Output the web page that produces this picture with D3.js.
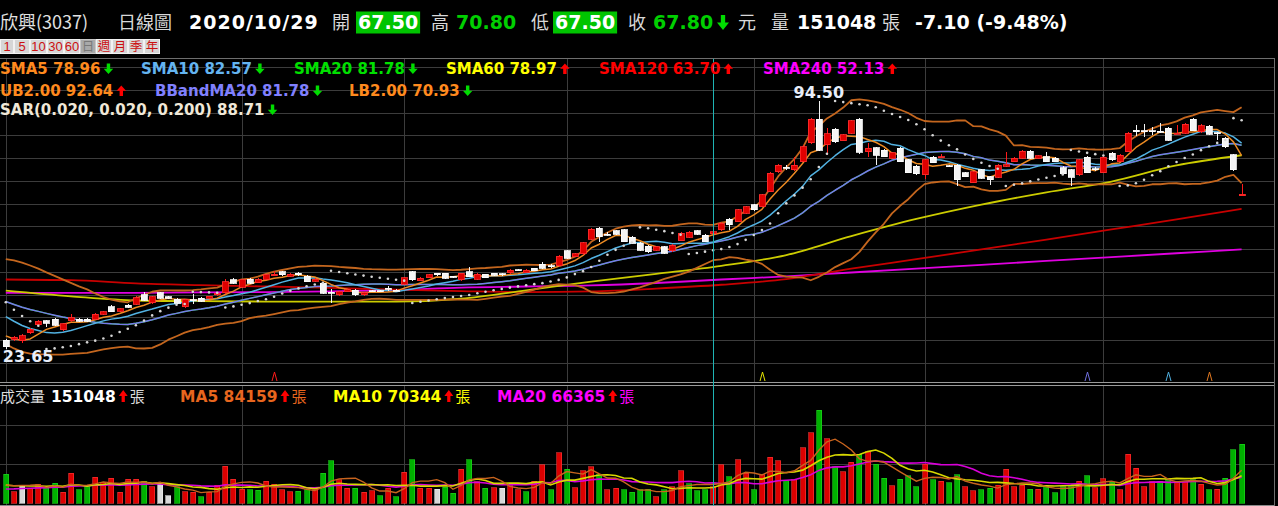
<!DOCTYPE html>
<html>
<head>
<meta charset="utf-8">
<script src="https://cdn.jsdelivr.net/npm/d3@7/dist/d3.min.js"></script>
<style>
  html, body { margin: 0; padding: 0; background: #000; overflow: hidden; }
  svg { display: block; }
  .num { font-family: "DejaVu Sans", Verdana, sans-serif; font-weight: bold; }
  .cjk { font-family: "Noto Sans CJK TC", "Noto Sans CJK SC", sans-serif; }
  .btn { font-family: "Liberation Sans", Arial, sans-serif; }
</style>
</head>
<body>
<div id="chart"></div>
<script>
// ---- header info ----
var stockName = "欣興", stockCode = "3037", periodLabel = "日線圖", lastDate = "2020/10/29";
var buttonLabels = ["1", "5", "10", "30", "60", "日", "週", "月", "季", "年"];
var selectedButton = 5;

// ---- daily candles, 2020/03/19 .. 2020/10/29 ----
var open = [26.2,26.4,26.0,28.3,30.6,31.7,32.1,29.1,31.65,32.1,
  32.2,32.1,33.6,35.7,34.5,36.2,36.4,39.1,36.9,39.7,
  38.6,37.85,35.7,37.7,38.1,38.1,39.1,39.7,43.4,41.3,
  43.6,42.6,43.6,44.6,45.7,44.4,45.3,44.5,43.0,42.4,
  39.8,39.1,40.0,40.5,39.1,40.3,40.3,41.0,40.5,42.1,
  45.7,43.2,44.0,45.3,45.3,44.4,43.4,45.75,43.6,45.0,
  45.3,45.2,45.4,46.3,45.5,46.7,47.9,47.4,47.4,51.7,
  50.0,50.8,55.0,58.1,56.5,57.4,57.65,55.55,53.8,53.05,
  51.9,52.85,51.7,54.6,55.6,57.4,56.2,56.6,57.65,60.7,
  60.0,62.4,64.8,64.3,68.6,74.3,75.6,74.8,77.2,82.6,
  89.3,81.95,86.4,83.2,85.3,89.3,80.0,81.2,80.5,78.1,
  81.0,77.65,75.9,73.4,78.4,78.5,76.0,76.2,74.0,71.2,
  74.8,72.9,72.7,75.9,77.2,78.1,80.2,78.1,78.6,78.1,
  75.5,74.8,73.4,78.4,75.1,74.0,79.6,77.2,80.0,86.2,
  86.0,86.0,85.8,86.7,85.2,85.3,89.3,85.7,87.35,85.4,
  83.85,79.1,67.5];
var high = [26.6,27.3,27.8,29.6,32.0,32.0,32.4,31.0,33.65,32.4,
  32.5,33.8,34.5,36.3,35.3,36.5,38.8,40.0,38.9,40.0,
  38.9,38.1,37.9,39.5,38.4,38.9,39.8,43.6,43.9,43.7,
  44.0,43.9,45.1,46.0,46.0,45.3,45.6,44.8,44.0,42.7,
  40.8,40.3,40.9,40.8,40.0,40.6,40.6,41.7,40.7,44.3,
  46.0,44.2,45.1,45.5,45.5,44.6,45.5,47.0,45.3,45.2,
  45.5,45.4,46.4,46.6,46.4,46.9,48.5,47.8,50.5,52.0,
  51.0,54.3,58.2,58.4,57.0,57.7,57.9,55.8,54.1,53.3,
  53.1,53.1,53.6,57.0,57.3,57.7,56.5,57.4,59.9,61.0,
  63.7,64.6,65.1,68.0,74.2,76.6,76.2,78.6,81.8,89.6,
  94.5,86.7,86.8,85.1,89.2,89.6,82.6,81.5,80.8,80.0,
  81.3,77.9,76.2,78.0,78.7,79.3,76.3,76.5,74.3,74.6,
  75.1,73.2,76.5,80.0,78.4,80.5,80.5,79.2,80.0,78.4,
  75.8,75.1,78.0,78.7,75.6,78.7,79.9,79.3,85.6,87.6,
  88.0,87.0,88.3,87.0,87.7,88.2,89.6,87.8,87.6,85.7,
  84.1,79.4,70.8];
var low = [23.65,26.0,25.45,28.0,30.3,30.0,30.3,28.9,31.4,31.3,
  31.4,31.9,33.4,34.1,34.3,35.3,36.2,37.4,36.6,37.9,
  37.9,36.5,35.5,36.5,37.1,37.9,38.9,39.5,42.2,41.1,
  42.2,42.4,43.4,44.4,44.6,44.2,44.6,42.7,42.8,39.4,
  36.8,38.9,39.8,38.9,38.9,39.8,39.8,40.2,40.1,41.9,
  43.2,43.0,43.8,44.6,43.6,43.9,43.2,44.1,43.4,43.8,
  44.5,44.6,45.2,45.8,45.3,45.8,46.5,46.9,47.2,49.4,
  49.8,50.6,54.8,54.3,55.8,56.2,54.1,53.6,51.7,51.2,
  51.7,50.8,51.5,54.4,55.4,56.2,54.1,56.3,57.4,57.65,
  59.8,62.2,63.2,64.1,68.4,74.0,74.8,74.5,77.0,82.3,
  80.2,79.0,82.6,83.0,85.0,79.5,78.5,76.2,78.4,77.9,
  77.0,73.8,73.4,72.1,76.7,78.2,75.6,70.2,72.7,71.0,
  72.2,70.5,72.5,75.6,77.0,77.9,77.9,77.9,77.0,77.0,
  73.4,70.2,73.2,73.8,74.4,73.8,77.4,77.0,79.8,84.6,
  84.1,84.8,85.3,83.1,85.0,85.1,85.8,85.5,84.8,83.5,
  81.2,74.6,67.5];
var close = [24.3,27.0,27.4,29.3,31.6,31.0,30.5,30.8,32.6,31.55,
  31.6,33.6,34.3,34.3,35.1,35.55,38.3,37.6,38.6,38.1,
  38.1,36.7,37.65,37.6,37.35,38.7,39.6,42.9,42.4,43.4,
  42.4,43.6,44.8,45.0,44.8,45.0,44.8,42.9,43.6,39.6,
  39.7,40.0,40.6,39.1,39.7,40.0,40.0,40.9,40.3,44.0,
  43.4,43.9,44.9,44.8,43.85,44.1,45.3,44.3,45.0,44.0,
  44.7,44.8,46.2,46.2,46.2,46.0,46.7,47.3,50.2,49.6,
  50.8,54.0,57.85,55.7,56.4,56.4,54.3,53.8,51.9,51.45,
  52.85,51.0,53.3,56.7,57.0,56.4,54.3,57.1,59.6,59.1,
  63.4,64.3,63.4,67.65,73.8,76.2,75.5,76.2,81.45,89.3,
  80.5,85.2,82.9,84.8,88.9,79.8,81.0,79.05,78.6,79.7,
  77.2,74.0,73.65,77.65,76.9,78.6,75.9,72.0,72.9,74.3,
  72.4,72.0,76.2,76.3,78.1,80.2,78.1,78.9,77.2,77.2,
  73.65,72.7,77.65,74.0,75.0,78.4,77.65,79.05,85.3,85.7,
  85.9,85.9,85.6,83.35,85.35,87.9,86.05,87.45,85.0,85.3,
  81.45,74.9,67.8];
var volume = [73800,29200,46300,37700,48000,39500,50600,27500,76300,33500,
  42000,66100,53200,63500,27500,60900,60900,56600,42000,48000,
  18900,42000,29200,27500,16300,27500,46300,95200,60900,35200,
  33500,32600,56600,48000,34300,29200,30000,33500,33500,76300,
  108100,59200,37700,37700,27500,31700,18900,37700,16300,78900,
  110700,37700,37700,36000,40300,24900,86600,110700,54900,37700,
  39500,37700,44600,33500,29200,56600,97800,34300,128700,86600,
  39500,82400,93500,72100,33500,37700,33500,27500,33500,36000,
  16300,33500,42000,83200,48900,30900,33500,42000,97800,67800,
  110700,76300,33500,72100,117500,108100,57500,59200,142400,181000,
  239300,164700,93500,80600,104600,125200,132100,99500,63500,44600,
  60900,70300,42000,99500,59200,56600,52300,72100,42000,31700,
  33500,37700,46300,86600,42000,46300,36000,36000,46300,26600,
  42000,42000,56600,69500,39500,61800,53200,33500,125200,89200,
  42000,54900,56600,61800,56600,54900,59200,48000,33500,36000,
  63500,136400,151048];
// r = up day, g = down day, w = unchanged
var volDir = ("grwrrggrrg" + "grrrrrrgrw" + "wgrrgrrrrr" + "ggrrrrggrg" + "grrgrrgrgr" +
  "grrwggrgrg" + "rwrrgrrgrg" + "rrrgrrgggg" + "rgrrgggrrg" + "rrgrrrgrrr" +
  "grgrrgrggr" + "gggrgrggrr" + "ggrrrrgrgg" + "ggrgrrgrrr" + "rrggrrgrgr" + "ggg").split("");

// sessions before the window, needed by the 5/10/20 averages
var prevClose = [43.5,43.0,42.8,42.0,42.5,41.5,40.8,40.5,39.8,38.6,40.2,39.5,38.0,37.5,36.8,31.5,29.0,27.5,24.7];
var prevVolume = [24000,28000,22000,30000,26000,25000,27000,23000,29000,26000,44000,48000,42000,50000,46000,38000,41000,36000,41000];

// long averages read every 8 sessions
var longMaIdx = [0,8,16,24,32,40,48,56,64,72,80,88,96,104,112,120,128,136,144,152];
var sma60 = [40.3,38.7,37.5,37.3,37.2,37.2,37.2,38.0,40.4,42.9,45.1,47.4,50.5,55.9,60.8,64.9,68.4,71.5,76.1,79.0];
var sma120 = [43.5,43.3,42.4,41.9,41.5,41.1,40.6,40.2,39.9,40.1,40.9,42.0,43.6,46.6,49.3,52.1,54.9,57.8,60.7,63.7];
var sma240 = [39.7,39.7,39.7,39.8,39.9,40.1,40.5,41.2,41.5,41.8,42.5,43.5,44.4,45.5,46.6,47.7,48.8,49.9,51.0,52.1];

// SAR state carried into the first session
var sarSeed = { trend: -1, sar: 37.0, ep: 23.65, af: 0.16 };

// legend readouts
var legendNames = ["SMA5", "SMA10", "SMA20", "SMA60", "SMA120", "SMA240", "UB2.00", "BBandMA20", "LB2.00", "SAR(0.020, 0.020, 0.200)"];
var legendValues = [78.96, 82.57, 81.78, 78.97, 63.70, 52.13, 92.64, 81.78, 70.93, 88.71];
var legendTrend = [-1, -1, -1, 1, 1, 1, 1, -1, -1, -1];
var volLegendNames = ["MA5", "MA10", "MA20"];
var volLegendValues = [84159, 70344, 66365];
var volLegendTrend = [1, 1, 1];

var monthStart = [29, 49, 69, 92, 113, 135];
var cursorIdx = 87;
var signalIdx = [33, 93, 133, 143, 148];
var signalColor = ["#ff1a1a", "#e6e600", "#7070e0", "#50b0e0", "#e07820"];

// ------------------------------------------------------------
var W = 1278, H = 506, n = close.length, L = n - 1;
var svg = d3.select("#chart").append("svg").attr("width", W).attr("height", H);
svg.append("rect").attr("width", W).attr("height", H).attr("fill", "#000");

var x = d3.scaleLinear().domain([0, n - 1]).range([5.8, 1241.6]);
var y = d3.scaleLinear().domain([d3.min(low), d3.max(high)]).range([349, 101]);
var yv = d3.scaleLinear().domain([0, d3.max(volume)]).range([503, 410]);

var priceTop = 58.5, priceBot = 382.5, volTop = 385.5, volBot = 505.5, rightEdge = 1274.5;
var px = function(i) { return Math.round(x(i)) + 0.5; };

// ---- grid ----
var grid = svg.append("g").attr("shape-rendering", "crispEdges");
d3.range(14).forEach(function(k) {
  var gy = Math.round(67 + k * 22.75) + 0.5;
  grid.append("line").attr("x1", 0).attr("x2", rightEdge).attr("y1", gy).attr("y2", gy).attr("stroke", "#3c3c3c");
});
[425.5, 464.5].forEach(function(gy) {
  grid.append("line").attr("x1", 0).attr("x2", rightEdge).attr("y1", gy).attr("y2", gy).attr("stroke", "#3c3c3c");
});
[0].concat(monthStart).forEach(function(i) {
  grid.append("line").attr("x1", px(i)).attr("x2", px(i)).attr("y1", priceTop).attr("y2", priceBot).attr("stroke", "#3c3c3c");
  grid.append("line").attr("x1", px(i)).attr("x2", px(i)).attr("y1", volTop).attr("y2", volBot).attr("stroke", "#3c3c3c");
});
[[priceTop, "#6e6e6e"], [priceBot, "#9a9a9a"], [volTop, "#9a9a9a"], [volBot, "#8a8a8a"]].forEach(function(b) {
  grid.append("line").attr("x1", 0).attr("x2", rightEdge).attr("y1", b[0]).attr("y2", b[0]).attr("stroke", b[1]);
});
grid.append("line").attr("x1", rightEdge).attr("x2", rightEdge).attr("y1", priceTop).attr("y2", volBot).attr("stroke", "#6e6e6e");

// ---- indicators ----
function movingAvg(series, prior, len) {
  var all = prior.concat(series), off = prior.length;
  return series.map(function(d, i) { return d3.mean(all.slice(off + i - len + 1, off + i + 1)); });
}
function movingDev(series, prior, len) {
  var all = prior.concat(series), off = prior.length;
  return series.map(function(d, i) {
    var w = all.slice(off + i - len + 1, off + i + 1), m = d3.mean(w);
    return Math.sqrt(d3.mean(w, function(v) { return (v - m) * (v - m); }));
  });
}
function parabolicSar(hi, lo, step, maxAf, seed) {
  var out = [], trend = seed.trend, sar = seed.sar, ep = seed.ep, af = seed.af;
  for (var i = 0; i < hi.length; i++) {
    out.push(sar);
    var next;
    if (trend < 0 && hi[i] > sar) { trend = 1; next = ep; ep = hi[i]; af = step; }
    else if (trend > 0 && lo[i] < sar) { trend = -1; next = ep; ep = lo[i]; af = step; }
    else {
      if (trend > 0 && hi[i] > ep) { ep = hi[i]; af = Math.min(af + step, maxAf); }
      if (trend < 0 && lo[i] < ep) { ep = lo[i]; af = Math.min(af + step, maxAf); }
      next = sar + af * (ep - sar);
      var j = i > 0 ? i - 1 : i;
      if (trend > 0) next = Math.min(next, lo[i], lo[j]);
      else next = Math.max(next, hi[i], hi[j]);
    }
    sar = next;
  }
  return out;
}

var ma5 = movingAvg(close, prevClose, 5);
var ma10 = movingAvg(close, prevClose, 10);
var ma20 = movingAvg(close, prevClose, 20);
var dev20 = movingDev(close, prevClose, 20);
var ub = ma20.map(function(m, i) { return m + 2 * dev20[i]; });
var lb = ma20.map(function(m, i) { return m - 2 * dev20[i]; });
var sar = parabolicSar(high, low, 0.02, 0.2, sarSeed);
var vma5 = movingAvg(volume, prevVolume, 5);
var vma10 = movingAvg(volume, prevVolume, 10);
var vma20 = movingAvg(volume, prevVolume, 20);

var pLine = d3.line().x(function(d) { return x(d[0]); }).y(function(d) { return y(d[1]); });
var smooth = d3.line().curve(d3.curveMonotoneX).x(function(d) { return x(d[0]); }).y(function(d) { return y(d[1]); });
var vLine = d3.line().x(function(d) { return x(d[0]); }).y(function(d) { return yv(d[1]); });
function pts(vals) { return vals.map(function(v, i) { return [i, v]; }); }
function sampled(vals) { return vals.map(function(v, k) { return [longMaIdx[k], v]; }); }

var lines = svg.append("g").attr("fill", "none").attr("stroke-linejoin", "round");
lines.append("path").attr("d", smooth(sampled(sma240))).attr("stroke", "#e000e0").attr("stroke-width", 1.8);
lines.append("path").attr("d", smooth(sampled(sma120))).attr("stroke", "#c80000").attr("stroke-width", 1.8);
lines.append("path").attr("d", smooth(sampled(sma60))).attr("stroke", "#cccc00").attr("stroke-width", 1.8);
lines.append("path").attr("d", pLine(pts(lb))).attr("stroke", "#c4661e").attr("stroke-width", 1.8);
lines.append("path").attr("d", pLine(pts(ub))).attr("stroke", "#c4661e").attr("stroke-width", 1.8);
lines.append("path").attr("d", pLine(pts(ma20))).attr("stroke", "#00c800").attr("stroke-width", 1.4);
lines.append("path").attr("d", pLine(pts(ma20))).attr("stroke", "#7878ec").attr("stroke-width", 1.5);
lines.append("path").attr("d", pLine(pts(ma10))).attr("stroke", "#52b2e2").attr("stroke-width", 1.5);
lines.append("path").attr("d", pLine(pts(ma5))).attr("stroke", "#ec8a22").attr("stroke-width", 1.5);

// ---- candles ----
var idx = d3.range(n);
var upCol = "#e00000", dnCol = "#f4f4f4";
var isUp = function(i) { return close[i] > open[i]; };
var cg = svg.append("g").attr("shape-rendering", "crispEdges");
cg.selectAll("line.wick").data(idx).join("line").attr("class", "wick")
  .attr("x1", px).attr("x2", px)
  .attr("y1", function(i) { return y(high[i]); }).attr("y2", function(i) { return y(low[i]); })
  .attr("stroke", function(i) { return isUp(i) ? "#ff1a1a" : dnCol; });
cg.selectAll("rect.body").data(idx).join("rect").attr("class", "body")
  .attr("x", function(i) { return Math.round(x(i)) - 3; })
  .attr("width", 6)
  .attr("y", function(i) { return y(Math.max(open[i], close[i])); })
  .attr("height", function(i) { return Math.max(1, Math.abs(y(open[i]) - y(close[i]))); })
  .attr("fill", function(i) { return isUp(i) ? upCol : dnCol; })
  .attr("stroke", function(i) { return isUp(i) ? "#ff3030" : "#ffffff"; })
  .attr("stroke-width", 0.8);

// SAR dots
svg.append("g").selectAll("circle").data(idx).join("circle")
  .attr("cx", function(i) { return x(i); }).attr("cy", function(i) { return y(sar[i]); })
  .attr("r", 1.3).attr("fill", "#d6d6d6");

// signal carets
svg.append("g").selectAll("path").data(signalIdx).join("path")
  .attr("d", function(i) { var c = px(i); return "M" + (c - 2.5) + ",381L" + c + ",372L" + (c + 2.5) + ",381"; })
  .attr("fill", "none").attr("stroke", function(d, k) { return signalColor[k]; }).attr("stroke-width", 1);

// extreme labels
var iMax = d3.maxIndex(high), iMin = d3.minIndex(low);
svg.append("text").attr("class", "num").attr("x", x(iMax)).attr("y", y(high[iMax]) - 3)
  .attr("text-anchor", "middle").attr("font-size", 16).attr("fill", "#e8eefa").text(high[iMax].toFixed(2));
svg.append("text").attr("class", "num").attr("x", x(iMin) - 3).attr("y", y(low[iMin]) + 13)
  .attr("font-size", 16).attr("fill", "#e8eefa").text(low[iMin].toFixed(2));

// ---- volume ----
var volFill = { r: "#dc0000", g: "#00b000", w: "#d8d8d8" };
var volEdge = { r: "#ff3a3a", g: "#20dc20", w: "#f0f0f0" };
svg.append("g").attr("shape-rendering", "crispEdges").selectAll("rect").data(idx).join("rect")
  .attr("x", function(i) { return Math.round(x(i)) - 2.5; }).attr("width", 5)
  .attr("y", function(i) { return yv(volume[i]); })
  .attr("height", function(i) { return yv(0) - yv(volume[i]); })
  .attr("fill", function(i) { return volFill[volDir[i]]; })
  .attr("stroke", function(i) { return volEdge[volDir[i]]; }).attr("stroke-width", 0.6);
var vl = svg.append("g").attr("fill", "none");
vl.append("path").attr("d", vLine(pts(vma20))).attr("stroke", "#d800d8").attr("stroke-width", 1.6);
vl.append("path").attr("d", vLine(pts(vma10))).attr("stroke", "#d8d800").attr("stroke-width", 1.6);
vl.append("path").attr("d", vLine(pts(vma5))).attr("stroke", "#c8641e").attr("stroke-width", 1.4);

// cursor
svg.append("line").attr("x1", px(cursorIdx)).attr("x2", px(cursorIdx)).attr("y1", priceTop).attr("y2", H)
  .attr("stroke", "#1fb4b4").attr("shape-rendering", "crispEdges");

// ---- text helpers ----
function addText(parent, str, x0, y0, size, color, cls, anchor) {
  return parent.append("text").attr("x", x0).attr("y", y0).attr("font-size", size)
    .attr("fill", color).attr("class", cls).attr("text-anchor", anchor || "start").text(str);
}
function drawArrow(parent, cx, top, h, w, dir, color) {
  var sw = Math.max(2.4, w * 0.36), hh = h * 0.5, b = top + h, p;
  if (dir < 0) p = [[cx - sw / 2, top], [cx + sw / 2, top], [cx + sw / 2, b - hh], [cx + w / 2, b - hh], [cx, b], [cx - w / 2, b - hh], [cx - sw / 2, b - hh]];
  else p = [[cx - sw / 2, b], [cx + sw / 2, b], [cx + sw / 2, top + hh], [cx + w / 2, top + hh], [cx, top], [cx - w / 2, top + hh], [cx - sw / 2, top + hh]];
  parent.append("path").attr("d", "M" + p.join("L") + "Z").attr("fill", color);
}
var upArrow = "#ff0000", dnArrow = "#00dc00";

// ---- header ----
var hdr = svg.append("g");
addText(hdr, stockName + "(" + stockCode + ")", 0, 29, 18, "#e2e2e2", "cjk");
addText(hdr, periodLabel, 118, 29, 18, "#d8d8d8", "cjk");
addText(hdr, lastDate, 189, 29, 19, "#ffffff", "num").attr("letter-spacing", 1);
var prev = close[L - 1], limitDown = prev * 0.9 + 0.1;
[["開", open[L], 332, 356], ["高", high[L], 431, 456], ["低", low[L], 531, 553], ["收", close[L], 628, 653]].forEach(function(q) {
  addText(hdr, q[0], q[2], 29, 18, "#d8d8d8", "cjk");
  var col = q[1] < prev ? "#00d000" : (q[1] > prev ? "#ff2020" : "#ffffff");
  if (q[1] < limitDown) {
    var box = hdr.append("rect").attr("x", q[3]).attr("y", 11.5).attr("height", 22).attr("fill", "#00c400");
    var t = addText(hdr, q[1].toFixed(2), q[3] + 2, 29, 19, "#ffffff", "num");
    box.attr("width", t.node().getComputedTextLength() + 4);
  } else {
    addText(hdr, q[1].toFixed(2), q[3], 29, 19, col, "num");
  }
});
drawArrow(hdr, 723, 15, 15, 12, -1, dnArrow);
addText(hdr, "元", 738, 29, 18, "#d8d8d8", "cjk");
addText(hdr, "量", 771, 29, 18, "#d8d8d8", "cjk");
addText(hdr, String(volume[L]), 797, 29, 19, "#ffffff", "num");
addText(hdr, "張", 882, 29, 18, "#d8d8d8", "cjk");
var chg = close[L] - prev;
addText(hdr, chg.toFixed(2) + " (" + (chg / prev * 100).toFixed(2) + "%)", 915, 29, 19, "#ffffff", "num");

// period buttons
var btnW = [14, 16, 17, 17, 16, 16, 16, 16, 16, 16], bx = 0;
buttonLabels.forEach(function(lbl, k) {
  var sel = k === selectedButton, cjk = /[^0-9]/.test(lbl);
  hdr.append("rect").attr("x", bx + 0.5).attr("y", 39.5).attr("width", btnW[k] - 1).attr("height", 14)
    .attr("fill", sel ? "#a9a9a9" : "#d6d6d6").attr("stroke", sel ? "#c8c8c8" : "#f2f2f2").attr("shape-rendering", "crispEdges");
  addText(hdr, lbl, bx + btnW[k] / 2, 51, cjk ? 12.5 : 13, sel ? "#787878" : "#cc1010", cjk ? "cjk" : "btn", "middle");
  bx += btnW[k];
});

// ---- price legend ----
var legendColor = ["#ff8a1e", "#64b4f0", "#00e000", "#ffff00", "#ff0000", "#ff00ff", "#ff8a1e", "#8080ff", "#ff8a1e", "#f0e8d8"];
var legendXY = [[0, 74], [141, 74], [294, 74], [446, 74], [599, 74], [763, 74], [0, 96], [155, 96], [349, 96], [0, 115]];
var lg = svg.append("g");
legendNames.forEach(function(name, k) {
  var p = legendXY[k];
  var t = addText(lg, name + " " + legendValues[k].toFixed(2), p[0], p[1], 15, legendColor[k], "num");
  var w = t.node().getComputedTextLength();
  drawArrow(lg, p[0] + w + 8, p[1] - 10.5, 10.5, 9.5, legendTrend[k], legendTrend[k] > 0 ? upArrow : dnArrow);
});

// ---- volume legend ----
var vg = svg.append("g");
addText(vg, "成交量", 0, 402, 15, "#dcdcdc", "cjk");
var vt = addText(vg, String(volume[L]), 51, 402, 15.5, "#ffffff", "num");
var vw = vt.node().getComputedTextLength();
drawArrow(vg, 51 + vw + 7.5, 390, 12, 9, volume[L] > volume[L - 1] ? 1 : -1, upArrow);
addText(vg, "張", 51 + vw + 14, 402, 15, "#dcdcdc", "cjk");
var volLegendColor = ["#e8661e", "#ffff00", "#ff00ff"], volLegendX = [180, 333, 497];
volLegendNames.forEach(function(name, k) {
  var t = addText(vg, name + " " + volLegendValues[k], volLegendX[k], 402, 15.5, volLegendColor[k], "num");
  var w = t.node().getComputedTextLength();
  drawArrow(vg, volLegendX[k] + w + 7.5, 390, 12, 9, volLegendTrend[k], upArrow);
  addText(vg, "張", volLegendX[k] + w + 14, 402, 15, volLegendColor[k], "cjk");
});
</script>
</body>
</html>
